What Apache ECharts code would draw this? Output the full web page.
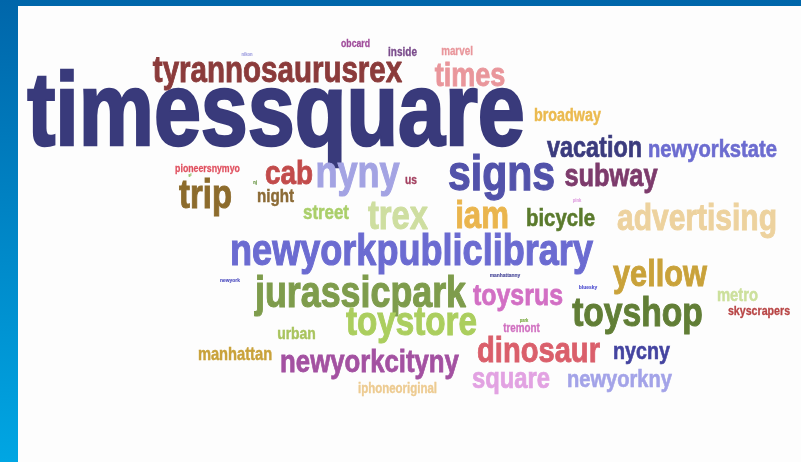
<!DOCTYPE html>
<html>
<head>
<meta charset="utf-8">
<script src="https://cdn.jsdelivr.net/npm/echarts@6/dist/echarts.min.js"></script>
<style>html,body{margin:0;padding:0;background:#fff}#c{width:801px;height:462px}</style>
</head>
<body>
<div id="c"></div>
<script>
// ---- data: words and their weights (frequency) ----
const words = ["timessquare","tyrannosaurusrex","times","broadway","vacation","newyorkstate","signs","subway","cab","nyny","us","pioneersnymyo","trip","night","street","trex","iam","bicycle","advertising","newyorkpubliclibrary","yellow","jurassicpark","toysrus","metro","skyscrapers","toyshop","toystore","urban","tremont","manhattan","newyorkcityny","dinosaur","nycny","square","newyorkny","iphoneoriginal","obcard","inside","marvel","nikon","nj","gl","pink","manhattanny","newyork","bluesky","park"];
const weights = [103,36,33,17.5,28.6,24.6,50,31,34,44,12.5,10.7,40,18.5,20.6,40,38,24.8,36.6,44,37.5,43.7,30.4,18,13,41,40.5,17,12,17.9,31.4,35.5,24,29,24.5,14,10.6,12.2,12,5,5,4,5,6,6,6,5];
// ---- layout placement (cloud coordinates) ----
const placeX = [276,277.5,470,567.5,594.5,712.5,501.5,611,289,357.5,411,207.5,205.5,275.5,326,398,482,560.5,697,411.5,660,360.5,518,737.5,759,637.5,411.5,296.5,521.5,235,369.5,538.5,641.5,511,619.5,397.5,355.5,402.5,457,247,255,190,577,505,230,588,524];
const placeY = [117,72,76.5,116,149.5,150.5,176,177,175,174.5,181,169.5,196.5,197,213,217.5,217.5,219,220,253,275.5,294.5,297,296,311,314.5,324,334,328.5,355,363,352.5,352,379.5,380.5,389.5,44.5,53,51.5,55,183,175,201,275,280,287,321];
// ---- colours ----
const colors = ["#393A7B","#8B3B3B","#E9969B","#EBBA4F","#3B3B7E","#6C6CD0","#5252AA","#7D3B6C","#C24B4B","#A3A3E3","#A34060","#E0505F","#8C6B2C","#8C6B36","#AACF6B","#CEDEA0","#EAB54D","#5A7A2C","#EDD29E","#6B6BD1","#C9A23A","#7E9C4C","#D26FC4","#CCE09C","#B84545","#617E36","#ABCE5E","#A9C45E","#D070C0","#C9A23A","#A351A1","#DA5F6B","#4444A0","#E2A2E2","#A3A3E8","#EDCB91","#A04C9B","#7B4C8C","#E9969B","#A0A0E0","#5A8A30","#70B040","#E0A0E0","#4A4A9A","#5050C0","#5050D0","#7AAA40"];

const fontFamily = "'Liberation Sans', Arial, sans-serif";
const narrow = 0.82;   // horizontal condensing of the typeface
const sizeOf = w => w;

const data = words.map((w, i) => [placeX[i], placeY[i], weights[i]]);

const chart = echarts.init(document.getElementById('c'), null, {renderer: 'canvas'});
chart.setOption({
  animation: false,
  backgroundColor: {type: 'linear', x: 0, y: 0, x2: 0, y2: 1,
    colorStops: [{offset: 0, color: '#0066AA'}, {offset: 1, color: '#00A6E3'}]},
  grid: {left: 18, top: 6, right: 0, bottom: 0, show: true, backgroundColor: '#FDFDFD', borderWidth: 0},
  xAxis: {type: 'value', min: 18, max: 801, show: false},
  yAxis: {type: 'value', min: 6, max: 462, inverse: true, show: false},
  series: [{
    type: 'custom',
    silent: true,
    data: data,
    renderItem: function (params, api) {
      const i = params.dataIndex;
      const p = api.coord([api.value(0), api.value(1)]);
      const fs = sizeOf(api.value(2));
      return {
        type: 'text',
        x: p[0], y: p[1],
        scaleX: narrow,
        style: {
          text: words[i],
          fontSize: fs,
          fontWeight: 'bold',
          fontFamily: fontFamily,
          fill: colors[i],
          stroke: colors[i],
          lineWidth: Math.max(0, fs * 0.025),
          align: 'center',
          verticalAlign: 'middle'
        }
      };
    }
  }]
});
</script>
</body>
</html>
